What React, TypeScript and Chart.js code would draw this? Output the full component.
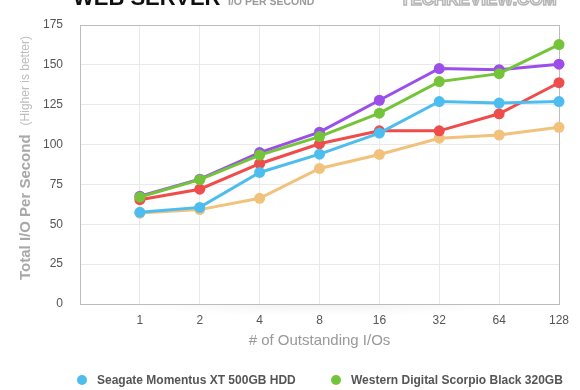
import { useEffect, useRef } from 'react';
import { Chart, registerables } from 'chart.js';
Chart.register(...registerables);

const FONT = "'Liberation Sans', Arial, Helvetica, sans-serif";

const outstandingIOs = ['', '1', '2', '4', '8', '16', '32', '64', '128'];
const yTicks = [0, 25, 50, 75, 100, 125, 150, 175];

const seagateXT = [null, 57.5, 60.6, 82.5, 94, 107.2, 127, 126, 127];
const wdScorpioBlack = [null, 67.1, 78, 93.4, 105, 119.7, 139.5, 144.5, 162.7];
const driveRed = [null, 65.4, 72, 88, 100.5, 108.6, 108.6, 119.3, 138.8];
const drivePurple = [null, 67.6, 78.3, 95, 107.8, 127.8, 147.7, 147, 150.4];
const driveOrange = [null, 57, 59.2, 66.3, 85, 93.8, 104, 106, 110.8];

const seriesNames = [
  'Seagate Momentus XT 500GB HDD',
  'Western Digital Scorpio Black 320GB',
  'Drive C',
  'Drive D',
  'Drive E',
];
const seriesColors = ['#4cbdee', '#74c43a', '#ef4c4c', '#9b4fe8', '#f0c27c'];
const seriesData = [seagateXT, wdScorpioBlack, driveRed, drivePurple, driveOrange];

const decoPlugin = {
  id: 'deco',
  beforeDraw(chart: any) {
    const ctx = chart.ctx;
    ctx.save();
    ctx.fillStyle = '#ffffff';
    ctx.fillRect(0, 0, chart.width, chart.height);
    // soft shadow under plot
    const a = chart.chartArea;
    const cx = (a.left + a.right) / 2;
    const halfW = (a.right - a.left) / 2 - 30;
    ctx.translate(cx, a.bottom);
    ctx.scale(halfW / 12, 1);
    const g = ctx.createRadialGradient(0, 0, 0, 0, 0, 12);
    g.addColorStop(0, 'rgba(0,0,0,0.05)');
    g.addColorStop(1, 'rgba(0,0,0,0)');
    ctx.fillStyle = g;
    ctx.fillRect(-12, 0, 24, 12);
    ctx.restore();
  },
  beforeDatasetsDraw(chart: any) {
    const ctx = chart.ctx;
    const a = chart.chartArea;
    ctx.save();
    ctx.strokeStyle = '#bcbcbc';
    ctx.lineWidth = 1;
    ctx.strokeRect(Math.round(a.left) + 0.5, Math.round(a.top) + 0.5, Math.round(a.right - a.left), Math.round(a.bottom - a.top));
    ctx.restore();
  },
  afterDraw(chart: any) {
    const ctx = chart.ctx;
    ctx.save();
    // Title
    ctx.textBaseline = 'alphabetic';
    ctx.textAlign = 'left';
    ctx.fillStyle = '#111';
    ctx.font = `bold 22px ${FONT}`;
    ctx.fillText('WEB SERVER', 73, 5);
    ctx.fillStyle = '#9a9a9a';
    ctx.font = `bold 10.5px ${FONT}`;
    ctx.fillText('I/O PER SECOND', 228, 4.5);
    // logo
    ctx.strokeStyle = '#b5b5b5';
    ctx.lineWidth = 1.5;
    ctx.font = `bold 17px ${FONT}`;
    ctx.strokeText('TECHREVIEW.COM', 400, 4.5);

    // y title
    ctx.translate(26, 280);
    ctx.rotate(-Math.PI / 2);
    ctx.textBaseline = 'middle';
    ctx.fillStyle = '#a8a8a8';
    ctx.font = `bold 15px ${FONT}`;
    const t1 = 'Total I/O Per Second';
    ctx.fillText(t1, 0, 0);
    const w1 = ctx.measureText(t1).width;
    ctx.fillStyle = '#bdbdbd';
    ctx.font = `12px ${FONT}`;
    ctx.fillText('(Higher is better)', w1 + 9, 0);
    ctx.setTransform(1, 0, 0, 1, 0, 0);

    // legend (two columns, rows below visible area)
    const cols = [82, 336];
    ctx.textBaseline = 'middle';
    ctx.font = `bold 12px ${FONT}`;
    chart.data.datasets.forEach((ds: any, i: number) => {
      const x = cols[i % 2];
      const y = 380 + Math.floor(i / 2) * 24;
      ctx.beginPath();
      ctx.fillStyle = ds.borderColor;
      ctx.arc(x, y, 5, 0, Math.PI * 2);
      ctx.fill();
      ctx.fillStyle = '#555';
      ctx.fillText(ds.label, x + 15, y + 0.5);
    });
    ctx.restore();
  },
};

export default function App() {
  const ref = useRef<HTMLCanvasElement>(null);
  useEffect(() => {
    document.body.style.margin = '0';
    const chart = new Chart(ref.current as HTMLCanvasElement, {
      type: 'line',
      data: {
        labels: outstandingIOs,
        datasets: seriesData.map((d, i) => ({
          label: seriesNames[i],
          data: d,
          borderColor: seriesColors[i],
          backgroundColor: seriesColors[i],
          pointBackgroundColor: seriesColors[i],
          pointBorderColor: seriesColors[i],
          pointBorderWidth: 0,
          pointRadius: 5.5,
          borderWidth: 3,
          tension: 0,
          clip: false as any,
        })),
      },
      options: {
        animation: false,
        responsive: false,
        layout: { padding: { top: 25, right: 21, bottom: 40, left: 0 } },
        plugins: { legend: { display: false }, tooltip: { enabled: false }, title: { display: false } },
        scales: {
          x: {
            type: 'category',
            offset: false,
            grid: { color: '#e9e9e9', drawTicks: false },
            border: { display: false },
            ticks: { color: '#555', font: { family: FONT, size: 12 }, padding: 9, maxRotation: 0, autoSkip: false },
            title: { display: true, text: '# of Outstanding I/Os', color: '#999', font: { family: FONT, size: 15 }, padding: { top: 0, bottom: 0 } },
            afterFit(scale: any) { scale.height = 46; },
          },
          y: {
            min: 0,
            max: 175,
            afterBuildTicks(scale: any) { scale.ticks = yTicks.map((v) => ({ value: v })); },
            grid: { color: '#e9e9e9', drawTicks: false },
            border: { display: false },
            ticks: { color: '#555', font: { family: FONT, size: 12 }, padding: 17 },
            afterFit(scale: any) { scale.width = 80; },
          },
        },
      },
      plugins: [decoPlugin],
    });
    return () => chart.destroy();
  }, []);
  return (
    <div style={{ position: 'fixed', left: 0, top: 0, width: 580, height: 390 }}>
      <canvas ref={ref} width={580} height={390} style={{ display: 'block' }} />
    </div>
  );
}
